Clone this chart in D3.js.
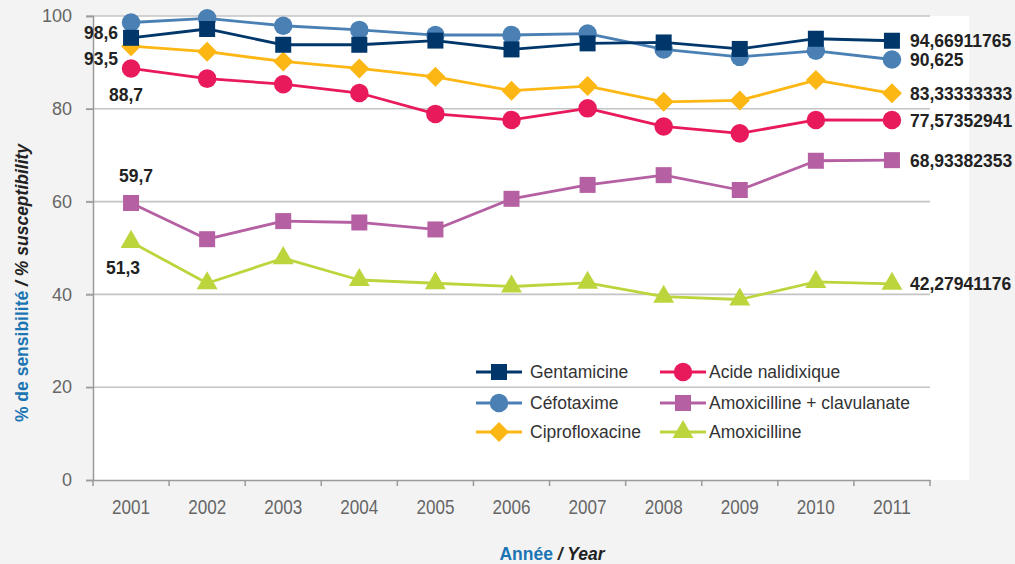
<!DOCTYPE html>
<html>
<head>
<meta charset="utf-8">
<script src="https://cdn.jsdelivr.net/npm/d3@7/dist/d3.min.js"></script>
<style>
  html, body { margin: 0; padding: 0; background: #f3f3f3; }
  svg { display: block; font-family: "Liberation Sans", Arial, sans-serif; }
</style>
</head>
<body>
<svg id="chart" width="1015" height="564"></svg>
<script>
// Susceptibility (%) by year, 2001–2011
const years = ["2001","2002","2003","2004","2005","2006","2007","2008","2009","2010","2011"];
const gentamicine   = [95.3, 97.2, 93.8, 93.8, 94.7, 92.8, 94.1, 94.3, 92.9, 95.1, 94.66911765];
const cefotaxime    = [98.6, 99.5, 97.9, 97.0, 95.9, 95.9, 96.2, 92.8, 91.2, 92.5, 90.625];
const ciprofloxacine= [93.5, 92.3, 90.2, 88.7, 86.9, 83.9, 84.9, 81.5, 81.8, 86.2, 83.33333333];
const acideNalidix  = [88.7, 86.5, 85.3, 83.4, 78.9, 77.6, 80.1, 76.2, 74.7, 77.6, 77.57352941];
const amoxClav      = [59.7, 51.9, 55.8, 55.5, 54.0, 60.6, 63.6, 65.7, 62.5, 68.8, 68.93382353];
const amoxicilline  = [51.3, 42.4, 47.8, 43.1, 42.4, 41.7, 42.5, 39.5, 38.9, 42.7, 42.27941176];
const yTicks = [0, 20, 40, 60, 80, 100];

// a diamond drawn as a square turned by 45°
const squareDiamond = {
  draw(context, size) {
    const r = Math.sqrt(size / 2);
    context.moveTo(0, -r);
    context.lineTo(r, 0);
    context.lineTo(0, r);
    context.lineTo(-r, 0);
    context.closePath();
  }
};

const series = [
  { name: "Amoxicilline", values: amoxicilline, color: "#bdd53d", symbol: d3.symbolTriangle, size: 190, col: 1, row: 2 },
  { name: "Amoxicilline + clavulanate", values: amoxClav, color: "#b560a2", symbol: d3.symbolSquare, size: 256, col: 1, row: 1 },
  { name: "Acide nalidixique", values: acideNalidix, color: "#e91a5c", symbol: d3.symbolCircle, size: 270, col: 1, row: 0 },
  { name: "Ciprofloxacine", values: ciprofloxacine, color: "#fdb714", symbol: squareDiamond, size: 200, col: 0, row: 2 },
  { name: "Céfotaxime", values: cefotaxime, color: "#4a80b4", symbol: d3.symbolCircle, size: 270, col: 0, row: 1 },
  { name: "Gentamicine", values: gentamicine, color: "#00376b", symbol: d3.symbolSquare, size: 256, col: 0, row: 0 }
];

const fmt = v => String(v).replace(".", ",");

const svg = d3.select("#chart");
const x = d3.scaleBand().domain(years).range([93, 930]).padding(0);
const y = d3.scaleLinear().domain([0, 100]).range([480, 16]);
const cx = d => x(d) + x.bandwidth() / 2;

// plot background
svg.append("rect").attr("x", 93).attr("y", y(100)).attr("width", 969 - 93).attr("height", y(0) - y(100)).attr("fill", "#ffffff");

// gridlines
svg.append("g").selectAll("line").data(yTicks.filter(t => t > 0)).join("line")
  .attr("x1", 86).attr("x2", 930)
  .attr("y1", d => y(d)).attr("y2", d => y(d))
  .attr("stroke", "#c4c4c4").attr("stroke-width", 1.6);

// y axis
const yAxis = svg.append("g").attr("transform", "translate(93,0)")
  .call(d3.axisLeft(y).tickValues(yTicks).tickSize(7).tickPadding(14));
yAxis.select(".domain").attr("stroke", "#9a9a9a").attr("stroke-width", 1.5);
yAxis.selectAll(".tick line").attr("stroke", "#9a9a9a").attr("stroke-width", 1.5);
yAxis.selectAll(".tick text").attr("fill", "#666").attr("font-size", 18).attr("font-family", "Liberation Sans, Arial, sans-serif");

// x axis (narrow year labels)
const xAxis = svg.append("g").attr("transform", `translate(0,${y(0)})`)
  .call(d3.axisBottom(x).tickSize(0).tickPadding(19));
xAxis.select(".domain").attr("stroke", "#9a9a9a").attr("stroke-width", 1.5);
xAxis.selectAll(".tick text").attr("fill", "#666").attr("font-size", 21)
  .attr("font-family", "Liberation Sans, Arial, sans-serif")
  .attr("textLength", 38).attr("lengthAdjust", "spacingAndGlyphs");
// boundary ticks between years
const edges = years.map(d => x(d)).concat([x(years[years.length - 1]) + x.bandwidth()]);
svg.append("g").selectAll("line").data(edges).join("line")
  .attr("x1", d => d).attr("x2", d => d)
  .attr("y1", y(0)).attr("y2", y(0) + 6)
  .attr("stroke", "#9a9a9a").attr("stroke-width", 1.5);

// lines and markers
const line = d3.line().x((v, i) => cx(years[i])).y(v => y(v));
series.forEach(s => {
  const g = svg.append("g");
  g.append("path").datum(s.values).attr("d", line)
    .attr("fill", "none").attr("stroke", s.color).attr("stroke-width", 2.8).attr("stroke-linejoin", "round");
  g.selectAll("path.m").data(s.values).join("path").attr("class", "m")
    .attr("d", d3.symbol().type(s.symbol).size(s.size))
    .attr("transform", (v, i) => `translate(${cx(years[i])},${y(v)})`)
    .attr("fill", s.color);
});

// value labels at the first year
const firstLabels = [
  { v: cefotaxime[0], dx: -47, dy: 17 },
  { v: ciprofloxacine[0], dx: -47, dy: 19 },
  { v: acideNalidix[0], dx: -22, dy: 33 },
  { v: amoxClav[0], dx: -12, dy: -21 },
  { v: amoxicilline[0], dx: -25, dy: 32 }
];
svg.append("g").selectAll("text").data(firstLabels).join("text")
  .attr("x", d => cx(years[0]) + d.dx)
  .attr("y", d => y(d.v) + d.dy)
  .attr("font-size", 17.5).attr("font-weight", "bold").attr("fill", "#222")
  .text(d => fmt(d.v));

// value labels at the last year
const last = years.length - 1;
const lastLabels = [gentamicine, cefotaxime, ciprofloxacine, acideNalidix, amoxClav, amoxicilline]
  .map(vals => vals[last]);
svg.append("g").selectAll("text").data(lastLabels).join("text")
  .attr("x", cx(years[last]) + 18)
  .attr("y", d => y(d) + 6.5)
  .attr("font-size", 17.5).attr("font-weight", "bold").attr("fill", "#222")
  .text(d => fmt(d));

// legend
const legCols = [{ x1: 476, x2: 522, m: 499, t: 530 }, { x1: 660, x2: 706, m: 683, t: 709 }];
const legRows = [372, 403, 432];
const leg = svg.append("g");
series.forEach(s => {
  const c = legCols[s.col], ry = legRows[s.row];
  leg.append("line").attr("x1", c.x1).attr("x2", c.x2).attr("y1", ry).attr("y2", ry)
    .attr("stroke", s.color).attr("stroke-width", 2.8);
  leg.append("path").attr("d", d3.symbol().type(s.symbol).size(s.size))
    .attr("transform", `translate(${c.m},${ry})`).attr("fill", s.color);
  leg.append("text").attr("x", c.t).attr("y", ry + 6)
    .attr("font-size", 17.5).attr("fill", "#333").text(s.name);
});

// axis titles
const yt = svg.append("text").attr("transform", "translate(28,283) rotate(-90)")
  .attr("text-anchor", "middle").attr("font-size", 17.5).attr("font-weight", "bold");
yt.append("tspan").attr("fill", "#1b75b3").text("% de sensibilité ");
yt.append("tspan").attr("fill", "#222").attr("font-style", "italic").text("/ % susceptibility");

const xt = svg.append("text").attr("x", 552).attr("y", 560)
  .attr("text-anchor", "middle").attr("font-size", 17.5).attr("font-weight", "bold");
xt.append("tspan").attr("fill", "#1b75b3").text("Année ");
xt.append("tspan").attr("fill", "#222").attr("font-style", "italic").text("/ Year");
</script>
</body>
</html>
